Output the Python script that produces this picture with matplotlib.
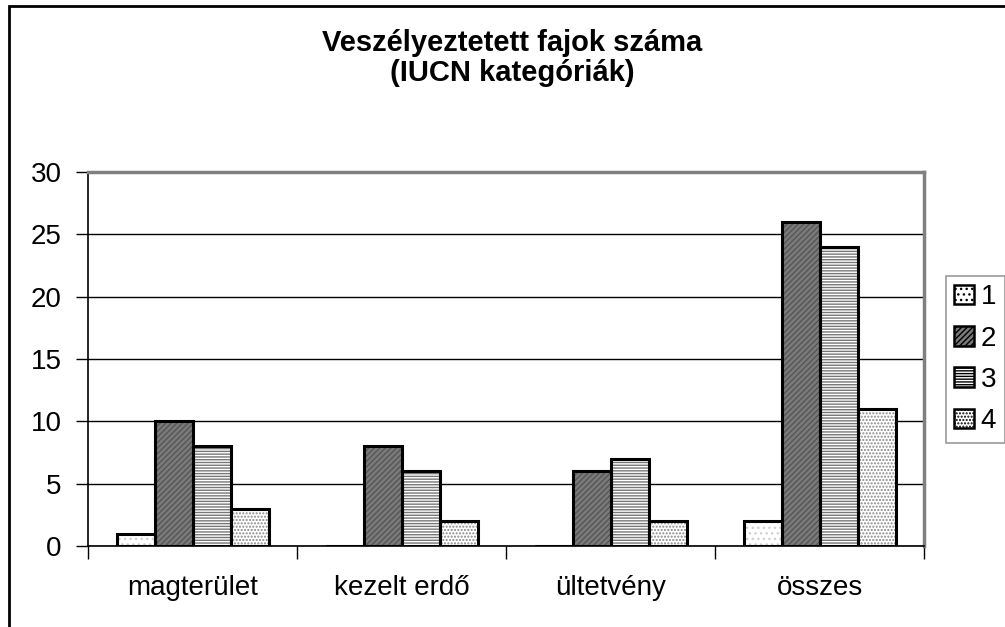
import matplotlib
matplotlib.use("Agg")
import matplotlib.pyplot as plt
import numpy as np
from matplotlib.patches import Rectangle, Patch

plt.rcParams['font.family'] = ['Liberation Sans', 'DejaVu Sans']

categories = ["magterület", "kezelt erdő", "ültetvény", "összes"]
series_names = ["1", "2", "3", "4"]
s1 = [1, 0, 0, 2]
s2 = [10, 8, 6, 26]
s3 = [8, 6, 7, 24]
s4 = [3, 2, 2, 11]
series = [s1, s2, s3, s4]
yticks = [0, 5, 10, 15, 20, 25, 30]
title = "Veszélyeztetett fajok száma\n(IUCN kategóriák)"

faces = ['white', '#7a7a7a', 'white', 'white']
hatches = ['...', '//////', '------', '.....']
hcolors = ['#d0d0d0', '#555555', '#777777', '#888888']

fig = plt.figure(figsize=(10.05, 6.27), dpi=100)
W, H = 1005, 627
ax = fig.add_axes([88 / W, (H - 546) / H, (924 - 88) / W, (546 - 172) / H])

n = len(series)
x = np.arange(len(categories))
bw = 1 / (n + 1.5)
plt.rcParams['hatch.linewidth'] = 1.0
for i, vals in enumerate(series):
    pos = x + (i - (n - 1) / 2) * bw
    ax.bar(pos, vals, width=bw, color=faces[i], hatch=hatches[i],
           edgecolor=hcolors[i], linewidth=0, zorder=2)
    ax.bar(pos, vals, width=bw, fill=False, edgecolor='black',
           linewidth=2.2, zorder=3)

ax.set_xlim(-0.5, len(categories) - 0.5)
ax.set_ylim(0, 30)
ax.set_yticks(yticks)
ax.yaxis.grid(True, color='black', linewidth=1.0, zorder=0)
ax.set_axisbelow(True)
ax.set_xticks(np.arange(len(categories) + 1) - 0.5, minor=False)
ax.set_xticklabels([])
ax.set_xticks(x, minor=True)
ax.set_xticklabels(categories, minor=True)
ax.tick_params(axis='x', which='minor', length=0, labelsize=20, pad=21)
ax.tick_params(axis='x', which='major', length=9, width=1, direction='out')
ax.tick_params(axis='y', length=9, width=1, labelsize=20, pad=10)
for s in ['top', 'right']:
    ax.spines[s].set_color('#808080')
    ax.spines[s].set_linewidth(2.5)
for s in ['left', 'bottom']:
    ax.spines[s].set_color('black')
    ax.spines[s].set_linewidth(1.2)

fig.text(512 / W, 1 - 58 / H, title, ha='center', va='center',
         fontsize=21, fontweight='bold', linespacing=1.05)

handles = [Patch(facecolor=faces[i], hatch=hatches[i], edgecolor='black',
                 linewidth=1.8) for i in range(n)]
leg = fig.legend(handles, series_names, loc='upper left',
                 bbox_to_anchor=(946 / W, 1 - 276 / H), fontsize=20,
                 frameon=True, fancybox=False, edgecolor='#808080',
                 handlelength=0.7, handleheight=0.7, handletextpad=0.25,
                 labelspacing=0.55, borderpad=0.3, borderaxespad=0)
leg.get_frame().set_linewidth(1.2)

fig.patches.append(Rectangle((9 / W, -0.1), 1.2, 1 - 6 / H + 0.1,
                             transform=fig.transFigure, fill=False,
                             edgecolor='black', linewidth=2, zorder=10))

fig.savefig("out.png", dpi=100)
